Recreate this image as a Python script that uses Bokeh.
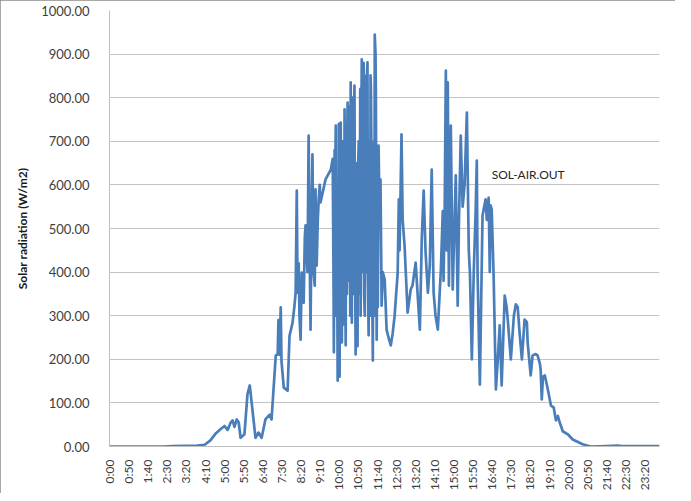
import math
from bokeh.plotting import figure
from bokeh.models import FixedTicker, NumeralTickFormatter, Label, Range1d, ColumnDataSource
from bokeh.embed import file_html
from bokeh.resources import INLINE

# ---- data ----
times = [
    "0:00","2:20","2:45","3:50","4:09","4:24","4:38","4:51","5:01","5:09",
    "5:17","5:22","5:27","5:33","5:38","5:43","5:53","6:01","6:07","6:12",
    "6:17","6:22","6:30","6:38","6:48","6:59","7:04","7:15","7:20","7:22",
    "7:25","7:28","7:30","7:36","7:46","7:51","7:59","8:04","8:07","8:10",
    "8:12","8:15","8:17","8:20","8:23","8:28","8:31","8:33","8:38","8:41",
    "8:44","8:46","8:49","8:51","8:54","8:57","8:59","9:02","9:05","9:07",
    "9:10","9:12","9:18","9:25","9:39","9:44","9:46","9:47","9:49","9:50",
    "9:51","9:52","9:54","9:55","9:57","9:58","9:59","10:00","10:01","10:02",
    "10:03","10:04","10:05","10:06","10:07","10:08","10:09","10:10","10:11","10:12",
    "10:13","10:14","10:15","10:16","10:18","10:19","10:20","10:21","10:22","10:23",
    "10:24","10:26","10:27","10:28","10:29","10:30","10:31","10:32","10:34","10:35",
    "10:36","10:37","10:38","10:40","10:41","10:42","10:44","10:45","10:46","10:47",
    "10:49","10:50","10:52","10:53","10:55","10:56","10:57","10:58","11:00","11:01",
    "11:02","11:03","11:05","11:06","11:08","11:09","11:10","11:11","11:12","11:14",
    "11:15","11:16","11:18","11:19","11:20","11:22","11:23","11:24","11:26","11:27",
    "11:29","11:30","11:32","11:33","11:34","11:36","11:37","11:39","11:41","11:42",
    "11:44","11:47","11:49","11:52","11:55","12:00","12:05","12:10","12:16","12:21",
    "12:26","12:34","12:37","12:39","12:44","12:47","12:52","13:00","13:08","13:13",
    "13:21","13:24","13:32","13:37","13:42","13:47","13:53","13:58","14:03","14:08",
    "14:13","14:19","14:27","14:32","14:34","14:37","14:40","14:42","14:45","14:48",
    "14:53","14:58","15:06","15:11","15:14","15:19","15:24","15:29","15:35","15:40",
    "15:43","15:48","15:53","15:58","16:01","16:03","16:09","16:16","16:24","16:27",
    "16:32","16:35","16:37","16:40","16:45","16:51","16:56","17:01","17:06","17:14",
    "17:19","17:22","17:30","17:38","17:43","17:48","17:53","17:59","18:06","18:12",
    "18:14","18:22","18:27","18:35","18:40","18:46","18:48","18:51","18:54","18:59",
    "19:07","19:15","19:22","19:28","19:33","19:38","19:46","19:59","20:12","20:38",
    "20:59","21:40","22:10","22:20","23:00","23:59",
]

radiation = [
    0, 0, 1, 2, 4, 14, 30, 40, 47, 38,
    55, 60, 45, 62, 55, 20, 28, 120, 140, 100,
    60, 20, 32, 20, 62, 73, 62, 209, 211, 290,
    210, 319, 195, 135, 128, 254, 284, 323, 353, 587,
    353, 420, 300, 245, 399, 330, 480, 507, 400, 713,
    420, 268, 550, 670, 400, 369, 590, 415, 520, 560,
    600, 560, 583, 612, 635, 660, 400, 216, 680, 300,
    650, 736, 300, 550, 151, 600, 250, 740, 450, 160,
    620, 500, 743, 300, 700, 239, 550, 700, 420, 300,
    600, 280, 773, 450, 232, 700, 650, 350, 720, 789,
    380, 500, 760, 780, 420, 300, 835, 600, 284, 700,
    800, 350, 400, 780, 828, 500, 211, 650, 600, 300,
    230, 620, 700, 350, 514, 820, 300, 600, 888, 400,
    500, 860, 880, 350, 300, 840, 850, 600, 400, 860,
    881, 400, 255, 600, 700, 300, 851, 820, 600, 400,
    197, 600, 700, 300, 945, 900, 800, 245, 500, 320,
    690, 500, 612, 323, 400, 383, 268, 250, 232, 260,
    300, 399, 567, 450, 716, 520, 461, 307, 360, 370,
    422, 380, 268, 475, 587, 445, 353, 415, 635, 353,
    300, 268, 406, 540, 380, 545, 862, 450, 835, 369,
    736, 360, 622, 323, 500, 713, 550, 600, 766, 450,
    400, 200, 400, 540, 656, 400, 142, 530, 567, 520,
    571, 400, 553, 544, 392, 131, 200, 278, 140, 346,
    320, 291, 200, 300, 326, 320, 260, 200, 291, 285,
    239, 163, 209, 212, 209, 190, 177, 108, 160, 163,
    130, 94, 90, 60, 70, 55, 35, 28, 16, 5,
    0, 1, 2, 1, 1, 1,
]

tick_labels = ["0:00","0:50","1:40","2:30","3:20","4:10","5:00","5:50","6:40","7:30","8:20","9:10","10:00","10:50",
               "11:40","12:30","13:20","14:10","15:00","15:50","16:40","17:30","18:20","19:10","20:00","20:50","21:40",
               "22:30","23:20"]
y_ticks = [0, 100, 200, 300, 400, 500, 600, 700, 800, 900, 1000]
series_name = "SOL-AIR.OUT"

assert len(times) == len(radiation), (len(times), len(radiation))


def to_min(t):
    h, m = t.split(":")
    return int(h) * 60 + int(m)


minutes = [to_min(t) for t in times]
tick_pos = [to_min(t) for t in tick_labels]

src = ColumnDataSource(dict(minute=minutes, rad=radiation))

W, H = 675, 493
p = figure(width=W, height=H, output_backend="svg", toolbar_location=None,
           x_range=Range1d(0, 1439), y_range=Range1d(0, 1000),
           min_border_left=109, min_border_right=16, min_border_top=10, min_border_bottom=47)
p.styles = {"outline": "1px solid #8a8a8a", "outline-offset": "-1px"}
p.outline_line_color = None
p.background_fill_color = "white"
p.border_fill_color = "white"

p.line(x="minute", y="rad", source=src, line_color="#4a7ebb", line_width=2.7, line_join="round")

p.xgrid.visible = False
p.ygrid.grid_line_color = "#c4c4c4"
p.ygrid.grid_line_width = 1

font = "Lato"
# y axis
p.yaxis.ticker = FixedTicker(ticks=y_ticks)
p.yaxis.formatter = NumeralTickFormatter(format="0.00")
p.yaxis.major_tick_line_color = None
p.yaxis.minor_tick_line_color = None
p.yaxis.axis_line_color = "#bfbfbf"
p.yaxis.major_label_standoff = 14
p.yaxis.major_label_text_font = font
p.yaxis.major_label_text_font_size = "13px"
p.yaxis.major_label_text_color = "#404040"
p.yaxis.axis_label = "Solar radiation (W/m2)"
p.yaxis.axis_label_text_font = font
p.yaxis.axis_label_text_font_style = "bold"
p.yaxis.axis_label_text_font_size = "12px"
p.yaxis.axis_label_text_color = "#1a1a1a"
p.yaxis.axis_label_standoff = 8

# x axis
p.xaxis.ticker = FixedTicker(ticks=tick_pos)
p.xaxis.major_label_overrides = {m: lbl for m, lbl in zip(tick_pos, tick_labels)}
p.xaxis.major_label_orientation = math.pi / 2
p.xaxis.major_tick_line_color = None
p.xaxis.minor_tick_line_color = None
p.xaxis.axis_line_color = "#bfbfbf"
p.xaxis.major_label_standoff = 7
p.xaxis.major_label_text_font = font
p.xaxis.major_label_text_font_size = "12px"
p.xaxis.major_label_text_color = "#404040"

p.add_layout(Label(x=1000, y=624, text=series_name, text_font=font, text_font_size="12px",
                   text_baseline="middle", text_color="#262626"))

open("out.html", "w").write(file_html(p, INLINE))
